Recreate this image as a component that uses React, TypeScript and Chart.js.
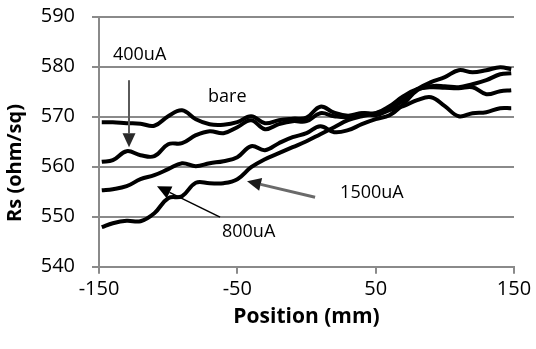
import React, { useEffect, useRef } from 'react';
import { Chart, registerables } from 'chart.js';

Chart.register(...registerables);

// Position along the wafer (mm)
const POSITIONS = [-148, -140, -130, -120, -110, -100, -90, -80, -70, -60, -50, -40, -30, -20, -10, 0, 10, 20, 30, 40, 50, 60, 70, 80, 90, 100, 110, 120, 130, 140, 148];

// Sheet resistance (ohm/sq)
const BARE = [568.9, 568.9, 568.7, 568.6, 568.2, 570.1, 571.3, 569.5, 568.5, 568.4, 568.9, 570.1, 568.7, 569.3, 569.6, 569.8, 572.0, 570.8, 570.2, 570.7, 570.3, 571.3, 572.1, 573.3, 573.9, 572.1, 570.1, 570.7, 570.9, 571.7, 571.7];
const UA400 = [561.0, 561.3, 563.1, 562.3, 562.1, 564.5, 564.7, 566.3, 567.1, 566.7, 567.9, 569.3, 567.5, 568.5, 569.1, 569.1, 570.7, 570.1, 569.9, 570.7, 570.7, 572.1, 574.1, 575.5, 575.9, 575.8, 575.7, 575.9, 574.5, 575.1, 575.3];
const UA800 = [555.3, 555.5, 556.1, 557.5, 558.3, 559.5, 560.7, 560.1, 560.7, 561.1, 561.9, 564.1, 563.3, 564.7, 565.9, 566.7, 568.1, 566.9, 567.3, 568.5, 569.5, 570.3, 572.5, 575.3, 576.1, 576.1, 575.9, 576.5, 577.3, 578.5, 578.7];
const UA1500 = [547.9, 548.7, 549.2, 549.1, 550.7, 553.7, 554.1, 556.8, 556.7, 556.7, 557.5, 559.9, 561.5, 562.7, 563.9, 565.1, 566.5, 567.9, 569.3, 570.1, 570.7, 571.5, 573.3, 575.5, 576.9, 577.9, 579.3, 578.9, 579.3, 579.9, 579.5];

const SERIES_NAMES = ['bare', '400uA', '800uA', '1500uA'];
const X_TICKS = [-150, -50, 50, 150];
const Y_MIN = 540;
const Y_MAX = 590;
const Y_STEP = 10;

// Callout labels (data coordinates: left edge / vertical centre)
const LABELS = [
  { text: '400uA', x: -139.9, y: 582.3 },
  { text: 'bare', x: -71.2, y: 573.9 },
  { text: '800uA', x: -61.1, y: 546.9 },
  { text: '1500uA', x: 24.3, y: 554.7 },
];
// Callout arrows (data coordinates: tail -> tip)
const ARROWS = [
  { x1: -128.3, y1: 577.3, x2: -128.3, y2: 563.9, color: '#5a5a5a', width: 2, head: '#2a2a2a' },
  { x1: -62.5, y1: 549.9, x2: -108.1, y2: 556.1, color: '#000000', width: 1.5, head: '#000000' },
  { x1: 6.2, y1: 553.9, x2: -43, y2: 557.1, color: '#6a6a6a', width: 3, head: '#1a1a1a' },
];

const FONT = "'Open Sans', 'Noto Sans', sans-serif";
const GRID = '#8a8a8a';

function drawArrow(ctx: CanvasRenderingContext2D, x1: number, y1: number, x2: number, y2: number, color: string, width: number, head: string) {
  const headLen = 14;
  const headW = 6.5;
  const ang = Math.atan2(y2 - y1, x2 - x1);
  const bx = x2 - headLen * Math.cos(ang);
  const by = y2 - headLen * Math.sin(ang);
  ctx.save();
  ctx.strokeStyle = color;
  ctx.lineWidth = width;
  ctx.beginPath();
  ctx.moveTo(x1, y1);
  ctx.lineTo(bx, by);
  ctx.stroke();
  ctx.fillStyle = head;
  ctx.beginPath();
  ctx.moveTo(x2, y2);
  ctx.lineTo(bx + headW * Math.sin(ang), by - headW * Math.cos(ang));
  ctx.lineTo(bx - headW * Math.sin(ang), by + headW * Math.cos(ang));
  ctx.closePath();
  ctx.fill();
  ctx.restore();
}

const calloutPlugin = {
  id: 'callouts',
  afterDatasetsDraw(chart: any) {
    const { ctx, scales } = chart;
    const xs = scales.x;
    const ys = scales.y;
    ARROWS.forEach((a) => {
      drawArrow(ctx, xs.getPixelForValue(a.x1), ys.getPixelForValue(a.y1), xs.getPixelForValue(a.x2), ys.getPixelForValue(a.y2), a.color, a.width, a.head);
    });
    ctx.save();
    ctx.fillStyle = '#000';
    ctx.font = `18px ${FONT}`;
    ctx.textAlign = 'left';
    ctx.textBaseline = 'middle';
    LABELS.forEach((l) => {
      ctx.fillText(l.text, xs.getPixelForValue(l.x), ys.getPixelForValue(l.y));
    });
    // y-axis title
    ctx.font = `bold 20px ${FONT}`;
    ctx.textAlign = 'center';
    ctx.translate(15, 163);
    ctx.rotate(-Math.PI / 2);
    ctx.fillText('Rs (ohm/sq)', 0, 0);
    ctx.restore();
  },
};

export default function App() {
  const canvasRef = useRef<HTMLCanvasElement | null>(null);

  useEffect(() => {
    document.body.style.margin = '0';
    const canvas = canvasRef.current;
    if (!canvas) return;
    const values = [BARE, UA400, UA800, UA1500];
    const chart = new Chart(canvas, {
      type: 'line',
      data: {
        datasets: values.map((vals, i) => ({
          label: SERIES_NAMES[i],
          data: POSITIONS.map((p, j) => ({ x: p, y: vals[j] })),
          borderColor: '#000000',
          backgroundColor: '#000000',
          borderWidth: 4,
          pointRadius: 0,
          tension: 0.4,
          fill: false,
        })),
      },
      options: {
        animation: false,
        responsive: false,
        layout: { padding: { top: 16.7, right: 22, bottom: 0, left: 0 } },
        plugins: {
          legend: { display: false },
          tooltip: { enabled: false },
          title: { display: false },
        },
        scales: {
          x: {
            type: 'linear',
            min: -150,
            max: 150,
            afterBuildTicks: (scale: any) => {
              scale.ticks = X_TICKS.map((v) => ({ value: v }));
            },
            afterFit: (scale: any) => {
              scale.height = 82.3;
              scale.paddingLeft = 0;
              scale.paddingRight = 0;
            },
            grid: {
              drawOnChartArea: false,
              drawTicks: true,
              tickLength: 7,
              color: GRID,
              lineWidth: 2,
            },
            border: { display: true, color: GRID, width: 2 },
            ticks: {
              color: '#000',
              font: { family: FONT, size: 20 },
              padding: 4,
              maxRotation: 0,
              autoSkip: false,
            },
            title: {
              display: true,
              text: 'Position (mm)',
              color: '#000',
              font: { family: FONT, size: 21, weight: 'bold' },
              padding: { top: 0, bottom: 19 },
            },
          },
          y: {
            type: 'linear',
            min: Y_MIN,
            max: Y_MAX,
            afterFit: (scale: any) => {
              scale.width = 99;
              scale.paddingTop = 0;
              scale.paddingBottom = 0;
            },
            grid: {
              drawOnChartArea: true,
              drawTicks: true,
              tickLength: 7,
              color: GRID,
              lineWidth: 2,
            },
            border: { display: true, color: GRID, width: 2 },
            ticks: {
              stepSize: Y_STEP,
              color: '#000',
              font: { family: FONT, size: 20 },
              padding: 17,
            },
          },
        },
      },
      plugins: [calloutPlugin],
    });
    return () => chart.destroy();
  }, []);

  return (
    <div style={{ width: 536, height: 349 }}>
      <canvas ref={canvasRef} width={536} height={349} />
    </div>
  );
}
